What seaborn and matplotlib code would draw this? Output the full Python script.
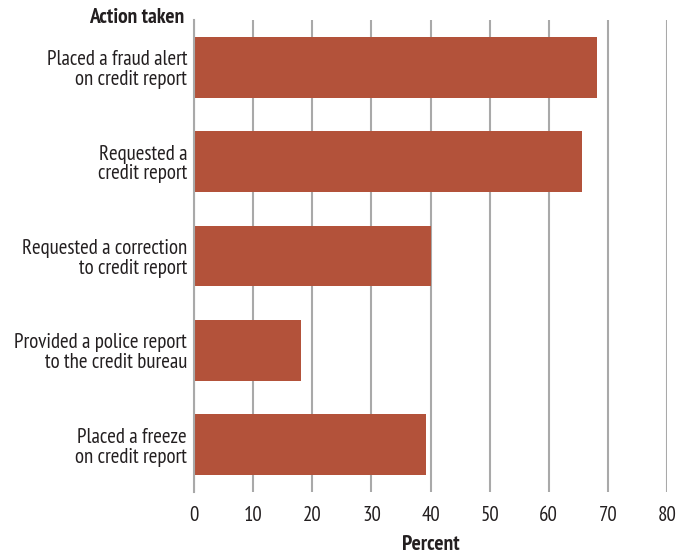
import matplotlib
matplotlib.use("Agg")
import matplotlib.pyplot as plt
import seaborn as sns
import pandas as pd

actions = [
    "Placed a fraud alert\non credit report",
    "Requested a\ncredit report",
    "Requested a correction\nto credit report",
    "Provided a police report\nto the credit bureau",
    "Placed a freeze\non credit report",
]
percent = [68.2, 65.7, 40.1, 18.1, 39.2]
x_ticks = [0, 10, 20, 30, 40, 50, 60, 70, 80]

df = pd.DataFrame({"action": actions, "percent": percent})

sns.set_style("white")
plt.rcParams["font.family"] = ["PT Sans Narrow", "DejaVu Sans"]
text_color = "#231f20"
grid_color = "#a9a9a9"
font_size = 15

fig = plt.figure(figsize=(6.9, 5.56), dpi=100)
ax = fig.add_axes([0.2812, 0.1151, 0.6855, 0.8489])

sns.barplot(data=df, y="action", x="percent", orient="h", color="#b3523a",
            width=0.645, saturation=1, linewidth=0, ax=ax, zorder=3)

ax.set_xlim(0, 80)
ax.set_ylim(4.5, -0.5)
ax.set_xticks(x_ticks)
ax.set_xticklabels([str(t) for t in x_ticks])
ax.grid(axis="x", color=grid_color, linewidth=1.5, zorder=0)
ax.grid(axis="y", visible=False)
for s in ["top", "right", "bottom"]:
    ax.spines[s].set_visible(False)
ax.spines["left"].set_color(grid_color)
ax.spines["left"].set_linewidth(1.5)
ax.spines["left"].set_zorder(4)

ax.tick_params(axis="both", length=0, labelsize=font_size, colors=text_color)
ax.tick_params(axis="x", pad=10)
ax.tick_params(axis="y", pad=5)
for lab in ax.get_yticklabels():
    lab.set_linespacing(1.05)

ax.set_ylabel("")
ax.set_xlabel("Percent", fontsize=font_size + 0.5, fontweight="bold", color=text_color, labelpad=7)
fig.text(0.267, 0.968, "Action taken", ha="right", va="center",
         fontsize=font_size + 0.5, fontweight="bold", color=text_color)

fig.savefig("out.png", dpi=100)
